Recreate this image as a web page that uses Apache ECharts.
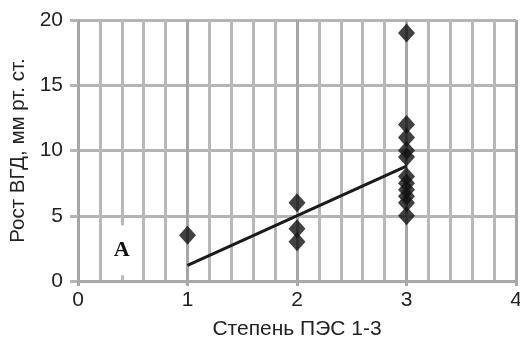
<!DOCTYPE html>
<html>
<head>
<meta charset="utf-8">
<script src="https://cdn.jsdelivr.net/npm/echarts@6/dist/echarts.min.js"></script>
<style>
  html, body { margin: 0; padding: 0; background: #fff; }
  #chart { width: 520px; height: 339px; }
</style>
</head>
<body>
<div id="chart"></div>
<script>
// точки: степень ПЭС и рост ВГД
var stage = [1, 2, 2, 2, 3, 3, 3, 3, 3, 3, 3, 3, 3, 3, 3];
var rise = [3.5, 6, 4, 3, 19, 12, 11, 10, 9.5, 8, 7, 6.5, 6, 5, 7.5];
// линия тренда
var trendX = [1, 3];
var trendY = [1.2, 8.8];
var xTicks = [0, 1, 2, 3, 4];
var yTicks = [0, 5, 10, 15, 20];

var chart = echarts.init(document.getElementById("chart"));
var font = "Liberation Sans, Arial, sans-serif";

chart.setOption({
  animation: false,
  grid: { left: 78, right: 4, top: 20, bottom: 58, containLabel: false, outerBoundsMode: "none" },
  xAxis: {
    type: "value",
    min: xTicks[0],
    max: xTicks[xTicks.length - 1],
    interval: 1,
    name: "Степень ПЭС 1-3",
    nameLocation: "middle",
    nameGap: 38,
    nameTextStyle: { fontFamily: font, fontSize: 21, color: "#222" },
    axisLine: { show: true, lineStyle: { color: "#a8a8aa", width: 3 } },
    axisTick: { show: true, length: 5, lineStyle: { color: "#a8a8aa", width: 3 } },
    axisLabel: { fontFamily: font, fontSize: 21, color: "#222", margin: 9 },
    splitLine: { show: true, lineStyle: { color: "#a6a6a8", width: 3 } },
    minorSplitLine: { show: true, lineStyle: { color: "#b8b8ba", width: 3 } },
    minorTick: { show: false, splitNumber: 5 }
  },
  yAxis: {
    type: "value",
    min: yTicks[0],
    max: yTicks[yTicks.length - 1],
    interval: 5,
    name: "Рост ВГД, мм рт. ст.",
    nameLocation: "middle",
    nameGap: 47,
    nameTextStyle: { fontFamily: font, fontSize: 20.5, color: "#222" },
    axisLine: { show: false },
    axisTick: { show: true, length: 8, lineStyle: { color: "#b4b4b6", width: 3 } },
    axisLabel: { fontFamily: font, fontSize: 21, color: "#222", margin: 15 },
    splitLine: { show: true, lineStyle: { color: "#b4b4b6", width: 3 } }
  },
  series: [
    {
      type: "line",
      data: trendX.map(function (x, i) { return [x, trendY[i]]; }),
      symbol: "none",
      lineStyle: { color: "#1a1a1a", width: 3 },
      z: 3,
      markPoint: {
        symbol: "rect",
        symbolSize: [10, 50],
        itemStyle: { color: "#fff" },
        label: {
          show: true,
          formatter: "A",
          fontFamily: "Liberation Serif, Times New Roman, serif",
          fontWeight: "bold",
          fontSize: 22,
          color: "#111"
        },
        data: [{ coord: [0.4, 2.35] }]
      }
    },
    {
      type: "scatter",
      data: stage.map(function (x, i) { return [x, rise[i]]; }),
      symbol: "diamond",
      symbolSize: [17, 19],
      itemStyle: { color: "#111" },
      z: 4
    }
  ]
});
</script>
</body>
</html>
